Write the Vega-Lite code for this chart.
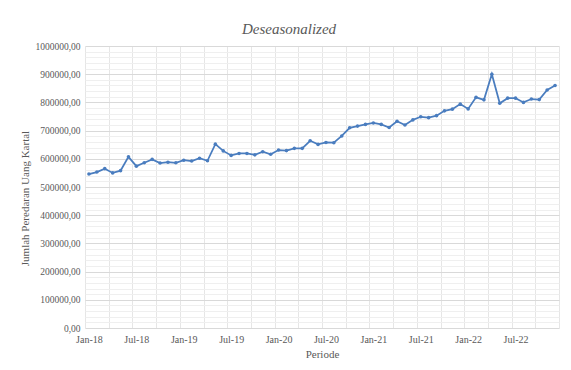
{
  "$schema": "https://vega.github.io/schema/vega-lite/v6.json",
  "width": 474,
  "height": 282,
  "autosize": {"type": "none"},
  "padding": {"left": 85, "top": 46, "right": 12, "bottom": 42},
  "background": "white",
  "config": {
    "view": {"stroke": null},
    "font": "'Liberation Serif', 'Times New Roman', serif",
    "axis": {
      "labelFont": "'Liberation Serif', 'Times New Roman', serif",
      "titleFont": "'Liberation Serif', 'Times New Roman', serif",
      "labelColor": "#595959",
      "titleColor": "#595959",
      "titleFontWeight": "normal"
    }
  },
  "title": {
    "text": "Deseasonalized",
    "font": "'Liberation Serif', 'Times New Roman', serif",
    "fontStyle": "italic",
    "fontWeight": "normal",
    "fontSize": 15,
    "color": "#595959",
    "anchor": "middle",
    "frame": "bounds",
    "offset": 4
  },
  "data": {
    "values": [
      {"i": 0, "periode": "Jan-18", "nilai": 546000},
      {"i": 1, "periode": "Feb-18", "nilai": 553000},
      {"i": 2, "periode": "Mar-18", "nilai": 565000},
      {"i": 3, "periode": "Apr-18", "nilai": 550000},
      {"i": 4, "periode": "May-18", "nilai": 558000},
      {"i": 5, "periode": "Jun-18", "nilai": 607000},
      {"i": 6, "periode": "Jul-18", "nilai": 574000},
      {"i": 7, "periode": "Aug-18", "nilai": 586000},
      {"i": 8, "periode": "Sep-18", "nilai": 598000},
      {"i": 9, "periode": "Oct-18", "nilai": 585000},
      {"i": 10, "periode": "Nov-18", "nilai": 588000},
      {"i": 11, "periode": "Dec-18", "nilai": 586000},
      {"i": 12, "periode": "Jan-19", "nilai": 595000},
      {"i": 13, "periode": "Feb-19", "nilai": 592000},
      {"i": 14, "periode": "Mar-19", "nilai": 602000},
      {"i": 15, "periode": "Apr-19", "nilai": 593000},
      {"i": 16, "periode": "May-19", "nilai": 652000},
      {"i": 17, "periode": "Jun-19", "nilai": 628000},
      {"i": 18, "periode": "Jul-19", "nilai": 612000},
      {"i": 19, "periode": "Aug-19", "nilai": 619000},
      {"i": 20, "periode": "Sep-19", "nilai": 619000},
      {"i": 21, "periode": "Oct-19", "nilai": 614000},
      {"i": 22, "periode": "Nov-19", "nilai": 625000},
      {"i": 23, "periode": "Dec-19", "nilai": 616000},
      {"i": 24, "periode": "Jan-20", "nilai": 631000},
      {"i": 25, "periode": "Feb-20", "nilai": 629000},
      {"i": 26, "periode": "Mar-20", "nilai": 637000},
      {"i": 27, "periode": "Apr-20", "nilai": 637000},
      {"i": 28, "periode": "May-20", "nilai": 664000},
      {"i": 29, "periode": "Jun-20", "nilai": 651000},
      {"i": 30, "periode": "Jul-20", "nilai": 658000},
      {"i": 31, "periode": "Aug-20", "nilai": 657000},
      {"i": 32, "periode": "Sep-20", "nilai": 681000},
      {"i": 33, "periode": "Oct-20", "nilai": 710000},
      {"i": 34, "periode": "Nov-20", "nilai": 716000},
      {"i": 35, "periode": "Dec-20", "nilai": 722000},
      {"i": 36, "periode": "Jan-21", "nilai": 727000},
      {"i": 37, "periode": "Feb-21", "nilai": 722000},
      {"i": 38, "periode": "Mar-21", "nilai": 711000},
      {"i": 39, "periode": "Apr-21", "nilai": 733000},
      {"i": 40, "periode": "May-21", "nilai": 720000},
      {"i": 41, "periode": "Jun-21", "nilai": 738000},
      {"i": 42, "periode": "Jul-21", "nilai": 749000},
      {"i": 43, "periode": "Aug-21", "nilai": 746000},
      {"i": 44, "periode": "Sep-21", "nilai": 753000},
      {"i": 45, "periode": "Oct-21", "nilai": 770000},
      {"i": 46, "periode": "Nov-21", "nilai": 776000},
      {"i": 47, "periode": "Dec-21", "nilai": 794000},
      {"i": 48, "periode": "Jan-22", "nilai": 777000},
      {"i": 49, "periode": "Feb-22", "nilai": 818000},
      {"i": 50, "periode": "Mar-22", "nilai": 809000},
      {"i": 51, "periode": "Apr-22", "nilai": 900000},
      {"i": 52, "periode": "May-22", "nilai": 797000},
      {"i": 53, "periode": "Jun-22", "nilai": 815000},
      {"i": 54, "periode": "Jul-22", "nilai": 815000},
      {"i": 55, "periode": "Aug-22", "nilai": 800000},
      {"i": 56, "periode": "Sep-22", "nilai": 812000},
      {"i": 57, "periode": "Oct-22", "nilai": 810000},
      {"i": 58, "periode": "Nov-22", "nilai": 844000},
      {"i": 59, "periode": "Dec-22", "nilai": 860000}
    ]
  },
  "layer": [
    {
      "mark": {"type": "line", "color": "#4a7dbf", "strokeWidth": 1.75},
      "encoding": {
        "x": {
          "field": "i",
          "type": "quantitative",
          "scale": {"domain": [-0.5, 59.5], "nice": false, "zero": false},
          "axis": {
            "orient": "bottom",
            "values": [-0.5, 2.5, 5.5, 8.5, 11.5, 14.5, 17.5, 20.5, 23.5, 26.5, 29.5, 32.5, 35.5, 38.5, 41.5, 44.5, 47.5, 50.5, 53.5, 56.5, 59.5],
            "grid": true,
            "gridColor": "#e6e6e6",
            "gridWidth": 1,
            "labels": false,
            "ticks": false,
            "domain": false,
            "title": null
          }
        },
        "y": {
          "field": "nilai",
          "type": "quantitative",
          "scale": {"domain": [0, 1000000], "nice": false},
          "axis": {
            "orient": "left",
            "values": [20000, 40000, 60000, 80000, 120000, 140000, 160000, 180000, 220000, 240000, 260000, 280000, 320000, 340000, 360000, 380000, 420000, 440000, 460000, 480000, 520000, 540000, 560000, 580000, 620000, 640000, 660000, 680000, 720000, 740000, 760000, 780000, 820000, 840000, 860000, 880000, 920000, 940000, 960000, 980000],
            "grid": true,
            "gridColor": "#efefef",
            "gridWidth": 1,
            "labels": false,
            "ticks": false,
            "domain": false,
            "title": null
          }
        }
      }
    },
    {
      "mark": {"type": "point", "filled": true, "opacity": 1, "color": "#4a7dbf", "size": 13},
      "encoding": {
        "x": {
          "field": "i",
          "type": "quantitative",
          "axis": {
            "orient": "bottom",
            "values": [0, 6, 12, 18, 24, 30, 36, 42, 48, 54],
            "labelExpr": "(datum.value % 12 == 0 ? 'Jan-' : 'Jul-') + (18 + floor(datum.value / 12))",
            "labelFontSize": 10,
            "labelPadding": 6,
            "grid": false,
            "ticks": false,
            "domain": false,
            "title": "Periode",
            "titleFontSize": 11,
            "titlePadding": 4
          }
        },
        "y": {
          "field": "nilai",
          "type": "quantitative",
          "axis": {
            "orient": "left",
            "values": [0, 100000, 200000, 300000, 400000, 500000, 600000, 700000, 800000, 900000, 1000000],
            "labelExpr": "replace(format(datum.value, '.2f'), '.', ',')",
            "labelFontSize": 9.5,
            "labelPadding": 5,
            "grid": true,
            "gridColor": "#d9d9d9",
            "gridWidth": 1,
            "ticks": false,
            "domain": false,
            "title": "Jumlah Peredaran Uang Kartal",
            "titleFontSize": 11,
            "titleX": -55,
            "titleY": 152
          }
        }
      }
    }
  ],
  "resolve": {"axis": {"x": "independent", "y": "independent"}}
}
